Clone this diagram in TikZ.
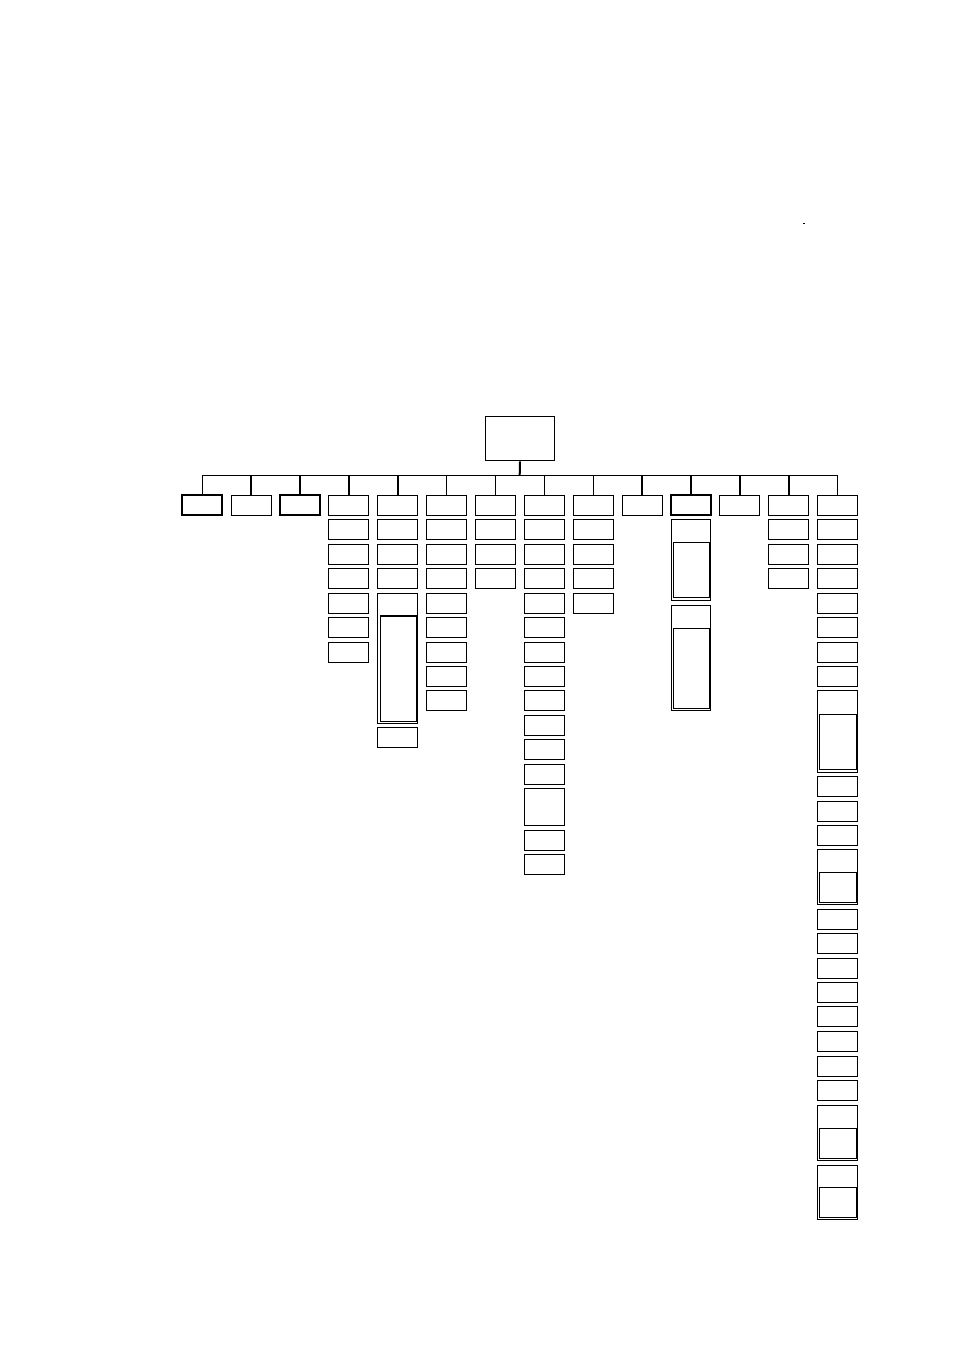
\documentclass[tikz,border=0pt]{standalone}
\begin{document}
\begin{tikzpicture}[x=1pt,y=-1pt,
  bx/.style={draw=black,line width=1.1pt,minimum width=40pt,inner sep=0pt,outer sep=0pt,anchor=north},
  hb/.style={line width=2pt},
  inbx/.style={minimum width=36.4pt},
  wire/.style={draw=black,line width=1.1pt},
  thickwire/.style={draw=black,line width=2pt}]
\fill[white] (0,0) rectangle (954,1349);
\useasboundingbox (0,0) rectangle (954,1349);
\newcommand\bx[5][]{\node[bx,#1,minimum height=#5pt] (#2) at (#3,#4) {};}
% root
\node[draw=black,line width=1.1pt,minimum width=69.4pt,minimum height=44pt,inner sep=0pt,anchor=north] (root) at (520,416.3) {};
\coordinate (bus) at (519.7,475.5);
% heads
\bx[hb]{h1}{202.3}{495.3}{20}
\bx{h2}{251.2}{495.3}{20}
\bx[hb]{h3}{300.0}{495.3}{20}
\bx{h4}{348.9}{495.3}{20}
\bx{h5}{397.8}{495.3}{20}
\bx{h6}{446.7}{495.3}{20}
\bx{h7}{495.5}{495.3}{20}
\bx{h8}{544.4}{495.3}{20}
\bx{h9}{593.3}{495.3}{20}
\bx{h10}{642.1}{495.3}{20}
\bx[hb]{h11}{691.0}{495.3}{20}
\bx{h12}{739.9}{495.3}{20}
\bx{h13}{788.7}{495.3}{20}
\bx{h14}{837.6}{495.3}{20}
% connectors
\draw[thickwire] (root.south) -- (bus);
\draw[wire] (h1.north |- bus) -- (h14.north |- bus);
\foreach \n in {1,6,7,8,9,14} {\draw[wire] (h\n.north |- bus) -- (h\n.north);}
\foreach \n in {2,3,4,5,10,11,12,13} {\draw[thickwire] (h\n.north |- bus) -- (h\n.north);}
% column 4
\foreach \t [count=\i from 2] in {519.3,544.3,568.3,593.3,617.3,642.3} {\bx{c4r\i}{348.9}{\t}{20}}
% column 5
\foreach \t [count=\i from 2] in {519.3,544.3,568.3} {\bx{c5r\i}{397.8}{\t}{20}}
\bx{c5big}{397.8}{593.3}{130.4}
\bx[inbx]{c5in}{398.5}{616}{105.7}
\bx{c5last}{397.8}{727.3}{20}
% column 6
\foreach \t [count=\i from 2] in {519.3,544.3,568.3,593.3,617.3,642.3,666.3,690.3} {\bx{c6r\i}{446.7}{\t}{20}}
% column 7
\foreach \t [count=\i from 2] in {519.3,544.3,568.3} {\bx{c7r\i}{495.5}{\t}{20}}
% column 8
\foreach \t [count=\i from 2] in {519.3,544.3,568.3,593.3,617.3,642.3,666.3,690.3,715.3,739.3,764.3} {\bx{c8r\i}{544.4}{\t}{20}}
\bx{c8tall}{544.4}{788.3}{37}
\bx{c8a}{544.4}{830.3}{20}
\bx{c8b}{544.4}{854.3}{20.4}
% column 9
\foreach \t [count=\i from 2] in {519.3,544.3,568.3,593.3} {\bx{c9r\i}{593.3}{\t}{20}}
% column 11
\bx[minimum width=39pt]{c11a}{690.8}{519.3}{81}
\bx[inbx]{c11ain}{691.5}{542.3}{55}
\bx[minimum width=39pt]{c11b}{690.8}{605.3}{105}
\bx[inbx]{c11bin}{691.5}{628.3}{80}
% column 13
\foreach \t [count=\i from 2] in {519.3,544.3,568.3} {\bx{c13r\i}{788.7}{\t}{20}}
% column 14
\foreach \t [count=\i from 2] in {519.3,544.3,568.3,593.3,617.3,642.3,666.3} {\bx{c14r\i}{837.3}{\t}{20}}
\bx{c14A}{837.3}{690.3}{82}
\bx[inbx]{c14Ain}{838.0}{714.3}{55.4}
\foreach \t [count=\i from 1] in {776.3,801.3,825.3} {\bx{c14m\i}{837.3}{\t}{20}}
\bx{c14B}{837.3}{849.3}{55}
\bx[inbx]{c14Bin}{838.0}{872.3}{30}
\foreach \t [count=\i from 1] in {909.3,933.3,958.3,982.3,1006.3,1031.3,1056.3,1080.3} {\bx{c14n\i}{837.3}{\t}{20}}
\bx{c14C}{837.3}{1105.3}{55}
\bx[inbx]{c14Cin}{838.0}{1128.3}{30}
\bx{c14D}{837.3}{1165.3}{54}
\bx[inbx]{c14Din}{838.0}{1187.3}{30}
% tiny mark
\fill[black] (803.3,222.5) rectangle (805,224);
\end{tikzpicture}
\end{document}
